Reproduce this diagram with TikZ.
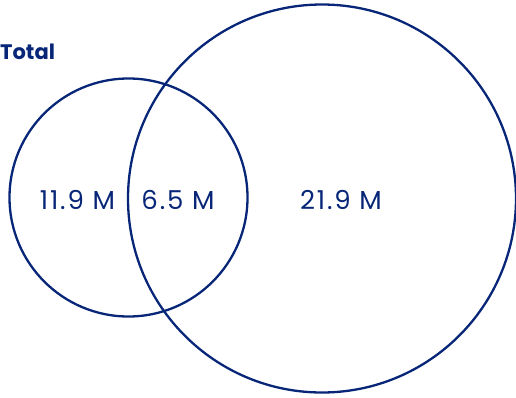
\documentclass[tikz,border=0pt]{standalone}
\usepackage{fontspec}
\setmainfont{Poppins}
\definecolor{navy}{RGB}{8,38,120}
\begin{document}
\begin{tikzpicture}[x=1pt,y=-1pt,
  ring/.style={draw=navy,line width=2.3pt},
  val/.style={text=navy,font=\fontsize{26}{30}\selectfont\addfontfeatures{LetterSpace=7},inner sep=0pt},
  ttl/.style={text=navy,font=\bfseries\fontsize{21}{24}\selectfont,inner sep=0pt,anchor=west}]
\useasboundingbox (0,0) rectangle (516,397);
\node[ring,circle,minimum size=238pt,inner sep=0pt] (small) at (128.5,197.5) {};
\node[ring,circle,minimum size=388pt,inner sep=0pt] (big) at (322,198.5) {};
\node[ttl] (total) at (0,52) {Total};
\node[val] (a) at (77.5,200) {11.9 M};
\node[val] (b) at (178,200) {6.5 M};
\node[val] (c) at (341,200) {21.9 M};
\end{tikzpicture}
\end{document}
